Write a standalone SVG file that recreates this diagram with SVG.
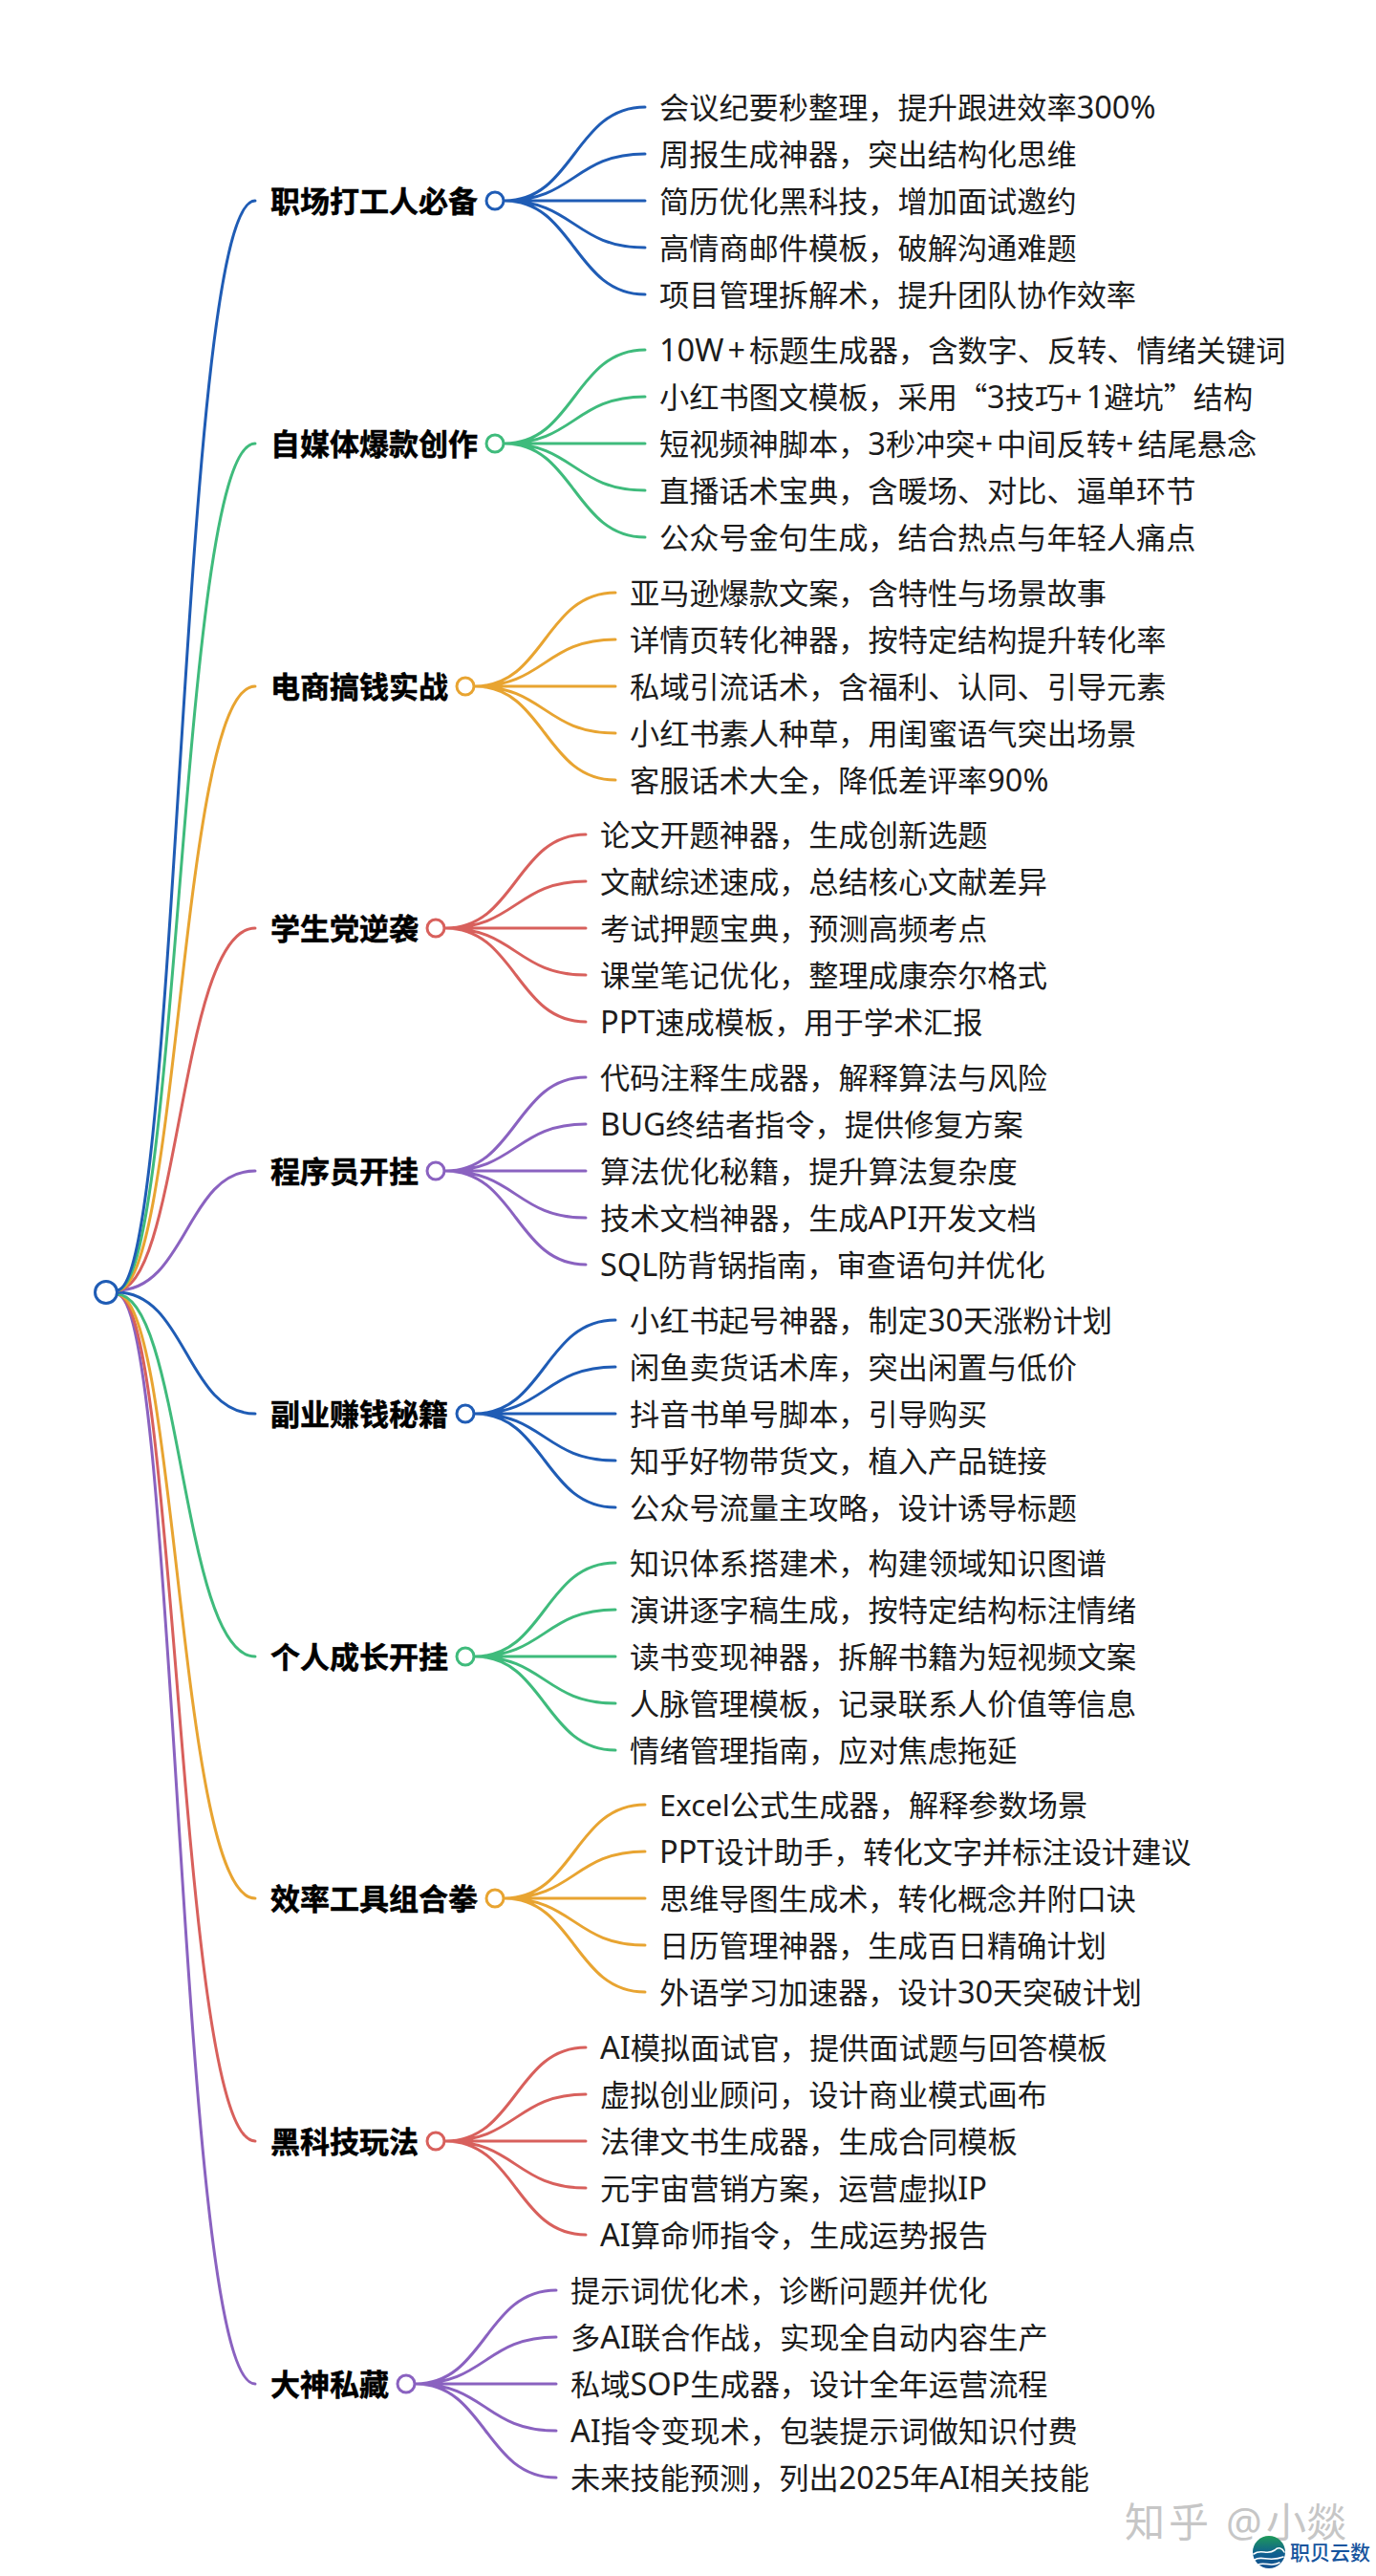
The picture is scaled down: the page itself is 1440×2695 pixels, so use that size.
<svg xmlns="http://www.w3.org/2000/svg" width="1440" height="2695" viewBox="0 0 1440 2695">
<defs>
<linearGradient id="globe" x1="0" y1="0" x2="0" y2="1"><stop offset="0" stop-color="#1f9a5a"/><stop offset="0.55" stop-color="#0f5f8f"/><stop offset="1" stop-color="#14508f"/></linearGradient>
</defs>
<style>
text{font-family:"Noto Sans","Noto Sans CJK SC",sans-serif}
.l{font-size:31.2px;fill:#1c1c1c}
.c{font-size:31px;font-weight:700;fill:#000;stroke:#000;stroke-width:.5px}
.a{font-size:32.5px}
.s{font-size:32.5px;letter-spacing:4px}
.q{font-family:"Noto Sans CJK SC",sans-serif}
path{fill:none;stroke-width:3;stroke-linecap:round}
circle{fill:#fff;stroke-width:3}
.b{stroke:#1f5cb5}.g{stroke:#3fbb7c}.o{stroke:#e8a431}.r{stroke:#d8605c}.p{stroke:#8a62c0}
</style>
<rect width="1440" height="2695" fill="#fff"/>
<g id="connectors">
<path class="p" d="M122 1354C186 1354 186 2494 267 2494"/>
<path class="r" d="M122 1354C186 1354 186 2240 267 2240"/>
<path class="o" d="M122 1354C186 1354 186 1986 267 1986"/>
<path class="g" d="M122 1354C190 1354 190 1733 267 1733"/>
<path class="b" d="M122 1352C195 1352 195 1479 267 1479"/>
<path class="p" d="M122 1350C195 1350 195 1225 267 1225"/>
<path class="r" d="M122 1350C188 1350 188 971 267 971"/>
<path class="o" d="M122 1350C188 1350 188 718 267 718"/>
<path class="g" d="M122 1350C188 1350 188 464 267 464"/>
<path class="b" d="M122 1350C188 1350 188 210 267 210"/>
<path class="b" d="M528 210C601 210 601 112 675 112M528 210C601 210 601 161 675 161M528 210H675M528 210C601 210 601 259 675 259M528 210C601 210 601 308 675 308"/>
<path class="g" d="M528 464C601 464 601 366 675 366M528 464C601 464 601 415 675 415M528 464H675M528 464C601 464 601 513 675 513M528 464C601 464 601 562 675 562"/>
<path class="o" d="M497 718C570 718 570 620 644 620M497 718C570 718 570 669 644 669M497 718H644M497 718C570 718 570 767 644 767M497 718C570 718 570 816 644 816"/>
<path class="r" d="M466 971C540 971 540 873 613 873M466 971C540 971 540 922 613 922M466 971H613M466 971C540 971 540 1020 613 1020M466 971C540 971 540 1069 613 1069"/>
<path class="p" d="M466 1225C540 1225 540 1127 613 1127M466 1225C540 1225 540 1176 613 1176M466 1225H613M466 1225C540 1225 540 1274 613 1274M466 1225C540 1225 540 1323 613 1323"/>
<path class="b" d="M497 1479C570 1479 570 1381 644 1381M497 1479C570 1479 570 1430 644 1430M497 1479H644M497 1479C570 1479 570 1528 644 1528M497 1479C570 1479 570 1577 644 1577"/>
<path class="g" d="M497 1733C570 1733 570 1635 644 1635M497 1733C570 1733 570 1684 644 1684M497 1733H644M497 1733C570 1733 570 1782 644 1782M497 1733C570 1733 570 1831 644 1831"/>
<path class="o" d="M528 1986C601 1986 601 1888 675 1888M528 1986C601 1986 601 1937 675 1937M528 1986H675M528 1986C601 1986 601 2035 675 2035M528 1986C601 1986 601 2084 675 2084"/>
<path class="r" d="M466 2240C540 2240 540 2142 613 2142M466 2240C540 2240 540 2191 613 2191M466 2240H613M466 2240C540 2240 540 2289 613 2289M466 2240C540 2240 540 2338 613 2338"/>
<path class="p" d="M435 2494C508 2494 508 2396 582 2396M435 2494C508 2494 508 2445 582 2445M435 2494H582M435 2494C508 2494 508 2543 582 2543M435 2494C508 2494 508 2592 582 2592"/>
</g>
<g id="root"><circle class="b" cx="111" cy="1352" r="11.5"/></g>
<g id="c1"><text class="c" x="283" y="222">职场打工人必备</text><circle class="b" cx="518" cy="210" r="9"/></g>
<g id="c2"><text class="c" x="283" y="476">自媒体爆款创作</text><circle class="g" cx="518" cy="464" r="9"/></g>
<g id="c3"><text class="c" x="283" y="730">电商搞钱实战</text><circle class="o" cx="487" cy="718" r="9"/></g>
<g id="c4"><text class="c" x="283" y="983">学生党逆袭</text><circle class="r" cx="456" cy="971" r="9"/></g>
<g id="c5"><text class="c" x="283" y="1237">程序员开挂</text><circle class="p" cx="456" cy="1225" r="9"/></g>
<g id="c6"><text class="c" x="283" y="1491">副业赚钱秘籍</text><circle class="b" cx="487" cy="1479" r="9"/></g>
<g id="c7"><text class="c" x="283" y="1745">个人成长开挂</text><circle class="g" cx="487" cy="1733" r="9"/></g>
<g id="c8"><text class="c" x="283" y="1998">效率工具组合拳</text><circle class="o" cx="518" cy="1986" r="9"/></g>
<g id="c9"><text class="c" x="283" y="2252">黑科技玩法</text><circle class="r" cx="456" cy="2240" r="9"/></g>
<g id="c10"><text class="c" x="283" y="2506">大神私藏</text><circle class="p" cx="425" cy="2494" r="9"/></g>
<g id="l1-1"><text class="l" x="690" y="124">会议纪要秒整理，提升跟进效率<tspan class="a">300%</tspan></text></g>
<g id="l1-2"><text class="l" x="690" y="173">周报生成神器，突出结构化思维</text></g>
<g id="l1-3"><text class="l" x="690" y="222">简历优化黑科技，增加面试邀约</text></g>
<g id="l1-4"><text class="l" x="690" y="271">高情商邮件模板，破解沟通难题</text></g>
<g id="l1-5"><text class="l" x="690" y="320">项目管理拆解术，提升团队协作效率</text></g>
<g id="l2-1"><text class="l" x="690" y="378"><tspan class="a">10W</tspan><tspan class="s" dx="4">+</tspan>标题生成器，含数字、反转、情绪关键词</text></g>
<g id="l2-2"><text class="l" x="690" y="427">小红书图文模板，采用<tspan class="q">“</tspan><tspan class="a">3</tspan>技巧<tspan class="s">+</tspan><tspan class="a">1</tspan>避坑<tspan class="q">”</tspan>结构</text></g>
<g id="l2-3"><text class="l" x="690" y="476">短视频神脚本，<tspan class="a">3</tspan>秒冲突<tspan class="s">+</tspan>中间反转<tspan class="s">+</tspan>结尾悬念</text></g>
<g id="l2-4"><text class="l" x="690" y="525">直播话术宝典，含暖场、对比、逼单环节</text></g>
<g id="l2-5"><text class="l" x="690" y="574">公众号金句生成，结合热点与年轻人痛点</text></g>
<g id="l3-1"><text class="l" x="659" y="632">亚马逊爆款文案，含特性与场景故事</text></g>
<g id="l3-2"><text class="l" x="659" y="681">详情页转化神器，按特定结构提升转化率</text></g>
<g id="l3-3"><text class="l" x="659" y="730">私域引流话术，含福利、认同、引导元素</text></g>
<g id="l3-4"><text class="l" x="659" y="779">小红书素人种草，用闺蜜语气突出场景</text></g>
<g id="l3-5"><text class="l" x="659" y="828">客服话术大全，降低差评率<tspan class="a">90%</tspan></text></g>
<g id="l4-1"><text class="l" x="628" y="885">论文开题神器，生成创新选题</text></g>
<g id="l4-2"><text class="l" x="628" y="934">文献综述速成，总结核心文献差异</text></g>
<g id="l4-3"><text class="l" x="628" y="983">考试押题宝典，预测高频考点</text></g>
<g id="l4-4"><text class="l" x="628" y="1032">课堂笔记优化，整理成康奈尔格式</text></g>
<g id="l4-5"><text class="l" x="628" y="1081"><tspan class="a">PPT</tspan>速成模板，用于学术汇报</text></g>
<g id="l5-1"><text class="l" x="628" y="1139">代码注释生成器，解释算法与风险</text></g>
<g id="l5-2"><text class="l" x="628" y="1188"><tspan class="a">BUG</tspan>终结者指令，提供修复方案</text></g>
<g id="l5-3"><text class="l" x="628" y="1237">算法优化秘籍，提升算法复杂度</text></g>
<g id="l5-4"><text class="l" x="628" y="1286">技术文档神器，生成<tspan class="a">API</tspan>开发文档</text></g>
<g id="l5-5"><text class="l" x="628" y="1335"><tspan class="a">SQL</tspan>防背锅指南，审查语句并优化</text></g>
<g id="l6-1"><text class="l" x="659" y="1393">小红书起号神器，制定<tspan class="a">30</tspan>天涨粉计划</text></g>
<g id="l6-2"><text class="l" x="659" y="1442">闲鱼卖货话术库，突出闲置与低价</text></g>
<g id="l6-3"><text class="l" x="659" y="1491">抖音书单号脚本，引导购买</text></g>
<g id="l6-4"><text class="l" x="659" y="1540">知乎好物带货文，植入产品链接</text></g>
<g id="l6-5"><text class="l" x="659" y="1589">公众号流量主攻略，设计诱导标题</text></g>
<g id="l7-1"><text class="l" x="659" y="1647">知识体系搭建术，构建领域知识图谱</text></g>
<g id="l7-2"><text class="l" x="659" y="1696">演讲逐字稿生成，按特定结构标注情绪</text></g>
<g id="l7-3"><text class="l" x="659" y="1745">读书变现神器，拆解书籍为短视频文案</text></g>
<g id="l7-4"><text class="l" x="659" y="1794">人脉管理模板，记录联系人价值等信息</text></g>
<g id="l7-5"><text class="l" x="659" y="1843">情绪管理指南，应对焦虑拖延</text></g>
<g id="l8-1"><text class="l" x="690" y="1900">Excel公式生成器，解释参数场景</text></g>
<g id="l8-2"><text class="l" x="690" y="1949"><tspan class="a">PPT</tspan>设计助手，转化文字并标注设计建议</text></g>
<g id="l8-3"><text class="l" x="690" y="1998">思维导图生成术，转化概念并附口诀</text></g>
<g id="l8-4"><text class="l" x="690" y="2047">日历管理神器，生成百日精确计划</text></g>
<g id="l8-5"><text class="l" x="690" y="2096">外语学习加速器，设计<tspan class="a">30</tspan>天突破计划</text></g>
<g id="l9-1"><text class="l" x="628" y="2154"><tspan class="a">AI</tspan>模拟面试官，提供面试题与回答模板</text></g>
<g id="l9-2"><text class="l" x="628" y="2203">虚拟创业顾问，设计商业模式画布</text></g>
<g id="l9-3"><text class="l" x="628" y="2252">法律文书生成器，生成合同模板</text></g>
<g id="l9-4"><text class="l" x="628" y="2301">元宇宙营销方案，运营虚拟<tspan class="a">IP</tspan></text></g>
<g id="l9-5"><text class="l" x="628" y="2350"><tspan class="a">AI</tspan>算命师指令，生成运势报告</text></g>
<g id="l10-1"><text class="l" x="597" y="2408">提示词优化术，诊断问题并优化</text></g>
<g id="l10-2"><text class="l" x="597" y="2457">多<tspan class="a">AI</tspan>联合作战，实现全自动内容生产</text></g>
<g id="l10-3"><text class="l" x="597" y="2506">私域<tspan class="a">SOP</tspan>生成器，设计全年运营流程</text></g>
<g id="l10-4"><text class="l" x="597" y="2555"><tspan class="a">AI</tspan>指令变现术，包装提示词做知识付费</text></g>
<g id="l10-5"><text class="l" x="597" y="2604">未来技能预测，列出<tspan class="a">2025</tspan>年<tspan class="a">AI</tspan>相关技能</text></g>
<g id="watermark"><text x="1177 1223 1270 1283 1325 1367" y="2654" font-size="42" fill="#c6c6c6">知乎 @小燚</text></g>
<g id="logo">
<circle cx="1328" cy="2670" r="17" style="fill:url(#globe);stroke:none"/>
<path d="M1312 2672C1320 2666 1326 2674 1334 2668C1338 2664 1342 2666 1344 2670M1313 2678C1320 2673 1328 2681 1343 2675M1317 2683C1323 2680 1331 2686 1339 2681" style="stroke:#fff;stroke-width:1.6"/>
<text x="1350" y="2678" font-size="21" font-weight="500" fill="#17559e">职贝云数</text>
</g>
</svg>
